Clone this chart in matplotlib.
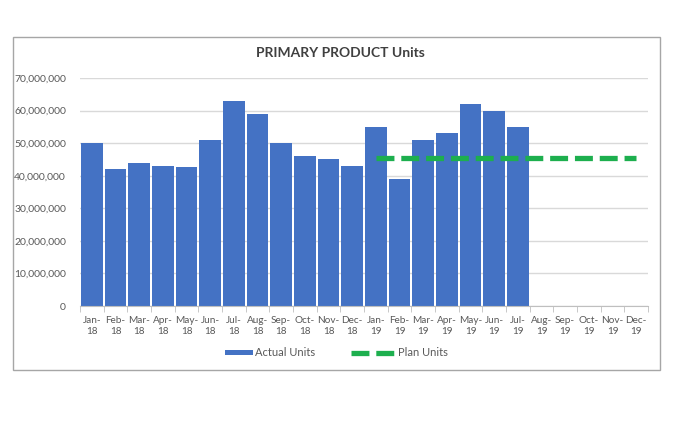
import matplotlib.pyplot as plt
from matplotlib.patches import Rectangle
from matplotlib.legend_handler import HandlerPatch
from matplotlib.ticker import FuncFormatter, MultipleLocator
import numpy as np

plt.rcParams['font.family'] = ['Lato', 'DejaVu Sans']

# Data
months = ["Jan-\n18", "Feb-\n18", "Mar-\n18", "Apr-\n18", "May-\n18", "Jun-\n18",
          "Jul-\n18", "Aug-\n18", "Sep-\n18", "Oct-\n18", "Nov-\n18", "Dec-\n18",
          "Jan-\n19", "Feb-\n19", "Mar-\n19", "Apr-\n19", "May-\n19", "Jun-\n19",
          "Jul-\n19", "Aug-\n19", "Sep-\n19", "Oct-\n19", "Nov-\n19", "Dec-\n19"]
actual_units = [50000000, 42000000, 44000000, 43000000, 42700000, 51000000,
                63000000, 59000000, 50000000, 46000000, 45000000, 43000000,
                55000000, 39000000, 51000000, 53000000, 62000000, 60000000,
                55000000]
plan_start = 12  # plan begins at Jan-19
plan_units = [45300000] * 12

fig = plt.figure(figsize=(6.8, 4.29), dpi=100)

# outer chart frame (like excel chart area)
fig.patches.append(Rectangle((13 / 680, 1 - 370 / 429), 647 / 680, 333 / 429,
                             transform=fig.transFigure, fill=False,
                             edgecolor="#A6A6A6", linewidth=1.0))

ax = fig.add_axes([80 / 680, 1 - 306 / 429, 568 / 680, 228 / 429])

x = np.arange(len(months))
bars = ax.bar(x[:len(actual_units)], actual_units, width=0.91, color="#4472C4",
              label="Actual Units", zorder=2)
plan_line, = ax.plot(x[plan_start:plan_start + len(plan_units)], plan_units,
                     color="#1DAF4E", linewidth=3.8, linestyle=(0, (3.4, 1.3)),
                     label="Plan Units", zorder=3)

ax.set_xlim(-0.5, len(months) - 0.5)
ax.set_ylim(0, 70000000)
ax.yaxis.set_major_locator(MultipleLocator(10000000))
ax.yaxis.set_major_formatter(FuncFormatter(lambda v, p: f"{int(v):,}"))
ax.grid(axis="y", color="#D9D9D9", linewidth=1.0, zorder=0)

ax.set_xticks(x)
ax.set_xticklabels(months, fontsize=7.2, color="#595959", linespacing=1.3)
ax.set_xticks(np.arange(-0.5, len(months)), minor=True)
ax.tick_params(axis="x", which="major", length=0, pad=7)
ax.tick_params(axis="x", which="minor", length=4, color="#BFBFBF")
ax.tick_params(axis="y", length=0, labelsize=7.5, labelcolor="#595959", pad=10)

for side in ["top", "right", "left"]:
    ax.spines[side].set_visible(False)
ax.spines["bottom"].set_color("#BFBFBF")

fig.text(0.5, 1 - 53 / 429, "PRIMARY PRODUCT Units", ha="center", va="center",
         fontsize=10, fontweight="bold", color="#404040")


# the bar key in the legend is a short flat box, narrower than the dashed key
def small_box(legend, orig_handle, xdescent, ydescent, width, height, fontsize):
    return Rectangle((width * 0.38 - xdescent, -ydescent + height * 0.15),
                     width * 0.62, height * 0.7)


bar_key = bars.patches[0]
leg = fig.legend([bar_key, plan_line], ["Actual Units", "Plan Units"], loc="center",
                 ncol=2, bbox_to_anchor=(328 / 680, 1 - 353 / 429), frameon=False,
                 fontsize=8, handlelength=4.0, handleheight=0.7,
                 columnspacing=3.2, handletextpad=0.2, labelcolor="#595959",
                 handler_map={bar_key: HandlerPatch(patch_func=small_box)})

fig.savefig("out.png", dpi=100)
